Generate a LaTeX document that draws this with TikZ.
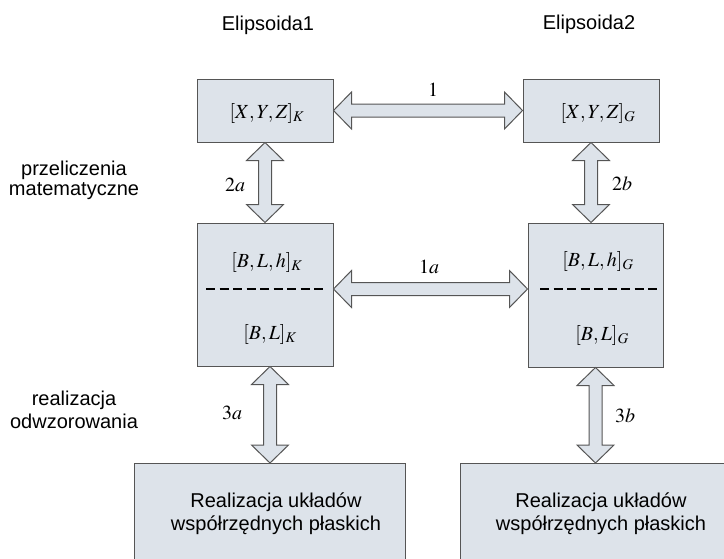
\documentclass[tikz,border=0pt]{standalone}
\usepackage{mathptmx}
\usepackage[no-math]{fontspec}
\setmainfont{Liberation Sans}
\usetikzlibrary{calc}
\definecolor{boxfill}{RGB}{221,227,234}
\definecolor{edge}{RGB}{85,85,85}

\begin{document}
\begin{tikzpicture}[x=1pt, y=-1pt,
    every node/.style={font=\fontsize{20}{23}\selectfont, inner sep=0pt},
    box/.style={draw=edge, fill=boxfill, line width=1pt},
    harrow/.style={draw=edge, fill=boxfill, line width=1pt, line join=miter,
      to path={let \p1=(\tikztostart), \p2=(\tikztotarget) in
        (\x1,\y1) -- (\x1+18pt,\y1+18.5pt) -- (\x1+18pt,\y1+6.5pt) -- (\x2-18pt,\y2+6.5pt)
        -- (\x2-18pt,\y2+18.5pt) -- (\x2,\y2) -- (\x2-18pt,\y2-18.5pt) -- (\x2-18pt,\y2-6.5pt)
        -- (\x1+18pt,\y1-6.5pt) -- (\x1+18pt,\y1-18.5pt) -- cycle}},
    varrow/.style={draw=edge, fill=boxfill, line width=1pt, line join=miter,
      to path={let \p1=(\tikztostart), \p2=(\tikztotarget) in
        (\x1,\y1) -- (\x1+18.5pt,\y1-18pt) -- (\x1+6.5pt,\y1-18pt) -- (\x2+6.5pt,\y2+18pt)
        -- (\x2+18.5pt,\y2+18pt) -- (\x2,\y2) -- (\x2-18.5pt,\y2+18pt) -- (\x2-6.5pt,\y2+18pt)
        -- (\x1-6.5pt,\y1-18pt) -- (\x1-18.5pt,\y1-18pt) -- cycle}},
    dashsep/.style={line width=2.5pt, dash pattern=on 9pt off 4.5pt}
  ]
        \clip (0,0) rectangle (724,558);

        \node (E1) at (268,25) {Elipsoida1};
        \node (E2) at (589,24) {Elipsoida2};
        \node[align=center, font=\fontsize{20}{20}\selectfont] (PM) at (74,180) {przeliczenia\\matematyczne};
        \node[align=center] (RO) at (74,410) {realizacja\\odwzorowania};

        \node[box, minimum width=136pt, minimum height=63pt] (XK) at (265,110.5) {};
        \node[box, minimum width=136pt, minimum height=63pt] (XG) at (591,110.5) {};
        \node[box, minimum width=136pt, minimum height=143pt] (BK) at (265,294.5) {};
        \node[box, minimum width=135pt, minimum height=144pt] (BG) at (595.5,295) {};
        \node[box, anchor=north west, minimum width=271pt, minimum height=120pt] (RK) at (134,463) {};
        \node[box, anchor=north west, minimum width=285pt, minimum height=120pt] (RG) at (460,463) {};

        \node (TXK) at (267,113) {$[X,Y,Z]_K$};
        \node (TXG) at (598,113) {$[X,Y,Z]_G$};
        \node (TBK) at (267,262) {$[B,L,h]_K$};
        \node (TLK) at (270,334) {$[B,L]_K$};
        \node (TBG) at (598,261) {$[B,L,h]_G$};
        \node (TLG) at (602,335) {$[B,L]_G$};
        \node[align=center] (TRK) at (276,513.5) {Realizacja układów\\współrzędnych płaskich};
        \node[align=center] (TRG) at (601,513.5) {Realizacja układów\\współrzędnych płaskich};

        \coordinate (DK1) at (206,289);
        \coordinate (DK2) at (325,289);
        \coordinate (DG1) at (540,289);
        \coordinate (DG2) at (660,289);
        \draw[dashsep] (DK1) -- (DK2);
        \draw[dashsep] (DG1) -- (DG2);

        \draw[harrow] (XK.east) to (XG.west);
        \draw[harrow] (BK.east |- DK1) to (BG.west |- DG1);
        \draw[varrow] (XK.south) to (BK.north);
        \draw[varrow] (XG.south) to (XG.south |- BG.north);
        \draw[varrow] (RK.north |- BK.south) to (RK.north);
        \draw[varrow] (BG.south) to (BG.south |- RG.north);

        \node (L1) at (433,90) {$1$};
        \node (L1a) at (429,267) {$1a$};
        \node (L2a) at (235,185) {$2a$};
        \node (L2b) at (622,184) {$2b$};
        \node (L3a) at (232,413) {$3a$};
        \node (L3b) at (625,416) {$3b$};

\end{tikzpicture}
\end{document}
